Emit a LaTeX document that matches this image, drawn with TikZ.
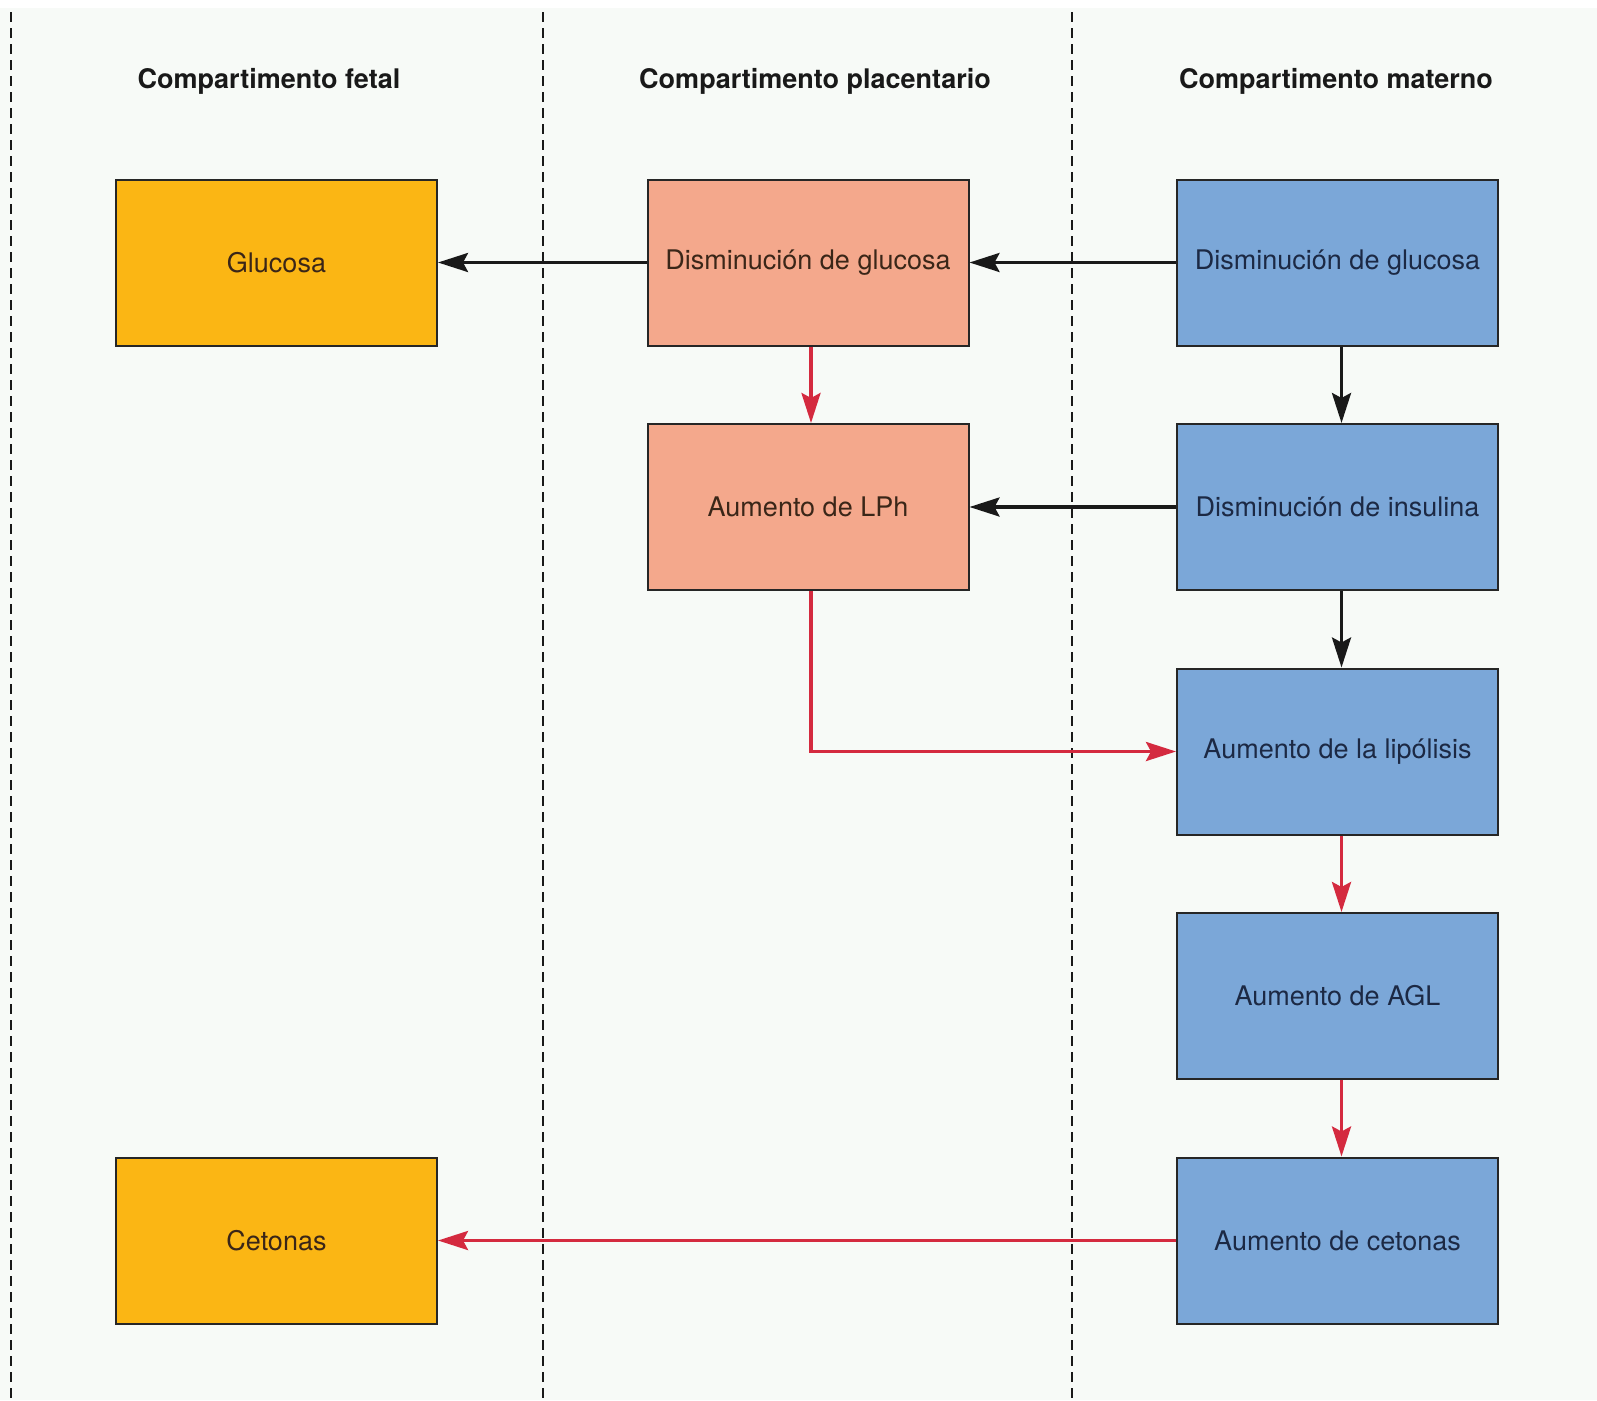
\documentclass[tikz,border=0pt]{standalone}
\usepackage{fontspec}
\setmainfont{TeX Gyre Heros}
\usepackage{xcolor}
\usepackage{tikz}
\usetikzlibrary{arrows.meta}

\definecolor{paper}{HTML}{F7FAF7}
\definecolor{fetalorange}{HTML}{FBB614}
\definecolor{placsalmon}{HTML}{F4A88C}
\definecolor{matblue}{HTML}{7BA7D8}
\definecolor{arrowred}{HTML}{D42A3F}
\definecolor{warmink}{HTML}{3A2618}
\definecolor{coldink}{HTML}{1C2944}

\begin{document}
\begin{tikzpicture}[x=1pt,y=-1pt,
% Style for the boxes
box style/.style={
rectangle,
draw=black!85,
line width=2pt,
minimum width=321pt,
minimum height=166pt,
font=\fontsize{27}{31}\selectfont
},
fetal box/.style={box style, fill=fetalorange, text=warmink},
plac box/.style={box style, fill=placsalmon, text=warmink},
mat box/.style={box style, fill=matblue, text=coldink},
% Style for the column titles
head style/.style={font=\bfseries\fontsize{27}{32}\selectfont, text=black!90},
% Style for the arrows
arrow style/.style={line width=3.5pt, -{Stealth[length=30pt,width=19pt,inset=5pt]}},
black arrow/.style={arrow style, draw=black!90},
red arrow/.style={arrow style, draw=arrowred},
divider/.style={black!90, line width=2.5pt, dash pattern=on 10pt off 6pt}
]

% Page and background
\useasboundingbox (0,0) rectangle (1597,1400);
\fill[paper] (0,8) rectangle (1597,1400);

% Dashed dividers between the compartments
\foreach \x/\n in {11/a,543/b,1072/c} {
\coordinate (top\n) at (\x,12);
\coordinate (bot\n) at (\x,1400);
\draw[divider] (top\n) -- (bot\n);
}

% Column titles
\node[head style] (hfetal) at (269,81) {Compartimento fetal};
\node[head style] (hplac) at (815,81) {Compartimento placentario};
\node[head style] (hmat) at (1336,81) {Compartimento materno};

% Fetal compartment
\node[fetal box] (f1) at (276.5,262.5) {Glucosa};
\node[fetal box] (f5) at (276.5,1240.5) {Cetonas};

% Placental compartment
\node[plac box] (p1) at (808,262.5) {Disminución de glucosa};
\node[plac box] (p2) at (808,507) {Aumento de LPh};

% Maternal compartment
\node[mat box] (m1) at (1337.5,262.5) {Disminución de glucosa};
\node[mat box] (m2) at (1337.5,507) {Disminución de insulina};
\node[mat box] (m3) at (1337.5,751.5) {Aumento de la lipólisis};
\node[mat box] (m4) at (1337.5,996) {Aumento de AGL};
\node[mat box] (m5) at (1337.5,1240.5) {Aumento de cetonas};

% Glucose pathway (black)
\draw[black arrow] (m1) -- (p1);
\draw[black arrow] (p1) -- (f1);
\draw[black arrow] ([xshift=4pt]m1.south) -- ([xshift=4pt]m2.north);
\draw[black arrow] (m2) -- (p2);
\draw[black arrow] ([xshift=4pt]m2.south) -- ([xshift=4pt]m3.north);

% Ketone pathway (red)
\draw[red arrow] ([xshift=3pt]p1.south) -- ([xshift=3pt]p2.north);
\draw[red arrow] ([xshift=3pt]p2.south) |- (m3.west);
\draw[red arrow] ([xshift=4pt]m3.south) -- ([xshift=4pt]m4.north);
\draw[red arrow] ([xshift=4pt]m4.south) -- ([xshift=4pt]m5.north);
\draw[red arrow] (m5) -- (f5);

\end{tikzpicture}
\end{document}
